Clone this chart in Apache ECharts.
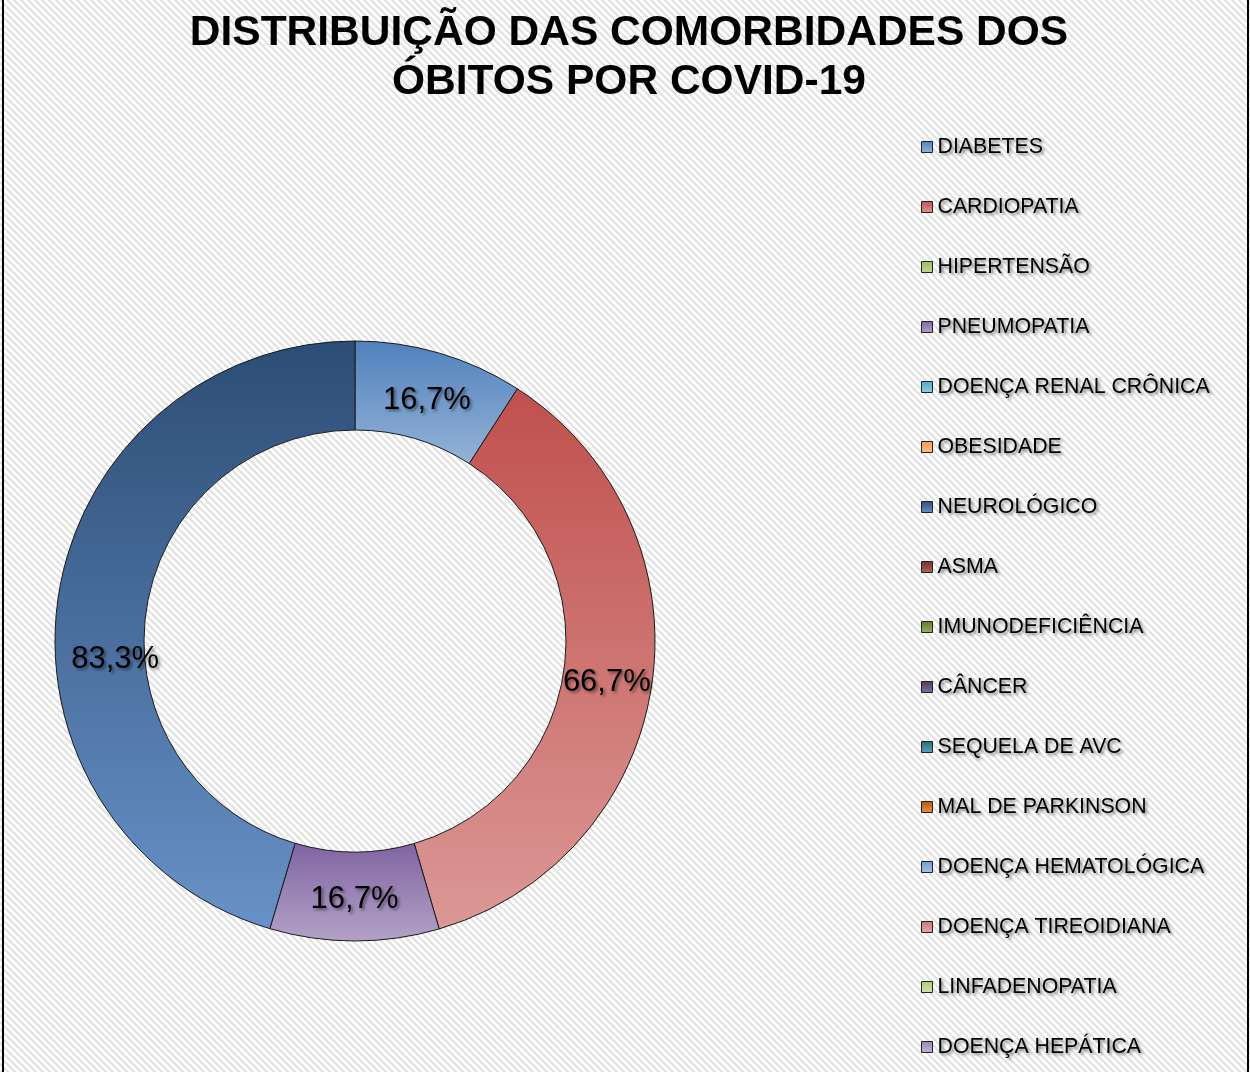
<!DOCTYPE html>
<html>
<head>
<meta charset="utf-8">
<script src="https://cdn.jsdelivr.net/npm/echarts@6/dist/echarts.min.js"></script>
<style>
html,body{margin:0;padding:0;background:#fff;}
#chart{width:1250px;height:1072px;}
</style>
</head>
<body>
<div id="chart"></div>
<script>
const titleText = 'DISTRIBUIÇÃO DAS COMORBIDADES DOS\nÓBITOS POR COVID-19';
const categories = ['DIABETES','CARDIOPATIA','HIPERTENSÃO','PNEUMOPATIA','DOENÇA RENAL CRÔNICA','OBESIDADE','NEUROLÓGICO','ASMA','IMUNODEFICIÊNCIA','CÂNCER','SEQUELA DE AVC','MAL DE PARKINSON','DOENÇA HEMATOLÓGICA','DOENÇA TIREOIDIANA','LINFADENOPATIA','DOENÇA HEPÁTICA'];
const values = [16.7, 66.7, 0, 16.7, 0, 0, 83.3, 0, 0, 0, 0, 0, 0, 0, 0, 0];
const topColors = ['#4f81bd','#c0504d','#9bbb59','#8064a2','#4bacc6','#f79646','#2c4d75','#772c2a','#5f7530','#4d3b62','#276a7c','#b65708','#729aca','#cd7371','#afc97a','#9983b5'];
const bottomColors = ['#95b3d7','#db9896','#c3d69b','#b3a2c7','#93cddd','#fac090','#6891c7','#b46462','#9bb55e','#8670a0','#56a6bc','#e8914a','#a8c2e2','#e2a9a8','#d2e3b3','#c3b6d6'];

const chart = echarts.init(document.getElementById('chart'));

// striped background pattern
const T = 7;
const pc = document.createElement('canvas');
pc.width = T; pc.height = T;
const pctx = pc.getContext('2d');
pctx.fillStyle = '#ffffff';
pctx.fillRect(0,0,T,T);
pctx.strokeStyle = '#e2e2e2';
pctx.lineWidth = 2.2;
for (let k = -2; k <= 2; k++) {
  pctx.beginPath();
  pctx.moveTo(k*T - 1, -1);
  pctx.lineTo(k*T + T + 1, T + 1);
  pctx.stroke();
}

const fmt = v => v.toFixed(1).replace('.', ',') + '%';

// label nudges to follow the reference placement
const labelOffsets = {'NEUROLÓGICO': [16, 56], 'DIABETES': [-1, 7], 'CARDIOPATIA': [-4, 4]};

const data = categories.map((name, i) => {
  const item = {
    name: name,
    value: values[i],
    itemStyle: {
      color: new echarts.graphic.LinearGradient(0, 0, 0, 1, [
        {offset: 0, color: topColors[i]},
        {offset: 1, color: bottomColors[i]}
      ])
    }
  };
  if (values[i] === 0) {
    item.label = {show: false};
    item.itemStyle.borderWidth = 0;
  } else if (labelOffsets[name]) {
    item.label = {offset: labelOffsets[name]};
  }
  return item;
});

const shadowText = {
  textShadowColor: 'rgba(0,0,0,0.45)',
  textShadowBlur: 3,
  textShadowOffsetX: 2,
  textShadowOffsetY: 2
};

chart.setOption({
  animation: false,
  graphic: [
    {type: 'rect', z: -10, silent: true, shape: {x: 0, y: 0, width: 1250, height: 1072}, style: {fill: {image: pc, repeat: 'repeat'}}},
    {type: 'rect', z: -9, silent: true, shape: {x: 3, y: -2, width: 1245, height: 1080}, style: {fill: 'none', stroke: '#000', lineWidth: 2}}
  ],
  title: {
    text: titleText,
    left: 624,
    textAlign: 'center',
    top: 4,
    textStyle: {
      fontFamily: 'Liberation Sans, Arial, sans-serif',
      fontWeight: 'bold',
      fontSize: 42.5,
      lineHeight: 49,
      color: '#000'
    }
  },
  legend: {
    orient: 'vertical',
    left: 921,
    top: 136,
    padding: 0,
    itemWidth: 11,
    itemHeight: 11,
    itemGap: 38,
    icon: 'rect',
    selectedMode: false,
    itemStyle: {borderColor: '#222', borderWidth: 1},
    textStyle: Object.assign({
      fontFamily: 'Liberation Sans, Arial, sans-serif',
      fontSize: 21.3,
      lineHeight: 22,
      color: '#000',
      padding: [0, 0, 0, 0]
    }, shadowText),
    data: categories
  },
  series: [{
    type: 'pie',
    center: [355, 641],
    radius: [211, 300],
    startAngle: 90,
    clockwise: true,
    avoidLabelOverlap: false,
    minAngle: 0,
    itemStyle: {borderColor: '#1a1a1a', borderWidth: 1},
    label: Object.assign({
      show: true,
      position: 'inside',
      formatter: p => fmt(p.value),
      fontFamily: 'Liberation Sans, Arial, sans-serif',
      fontSize: 31,
      color: '#000'
    }, shadowText),
    labelLine: {show: false},
    emphasis: {disabled: true},
    data: data
  }]
});
</script>
</body>
</html>
